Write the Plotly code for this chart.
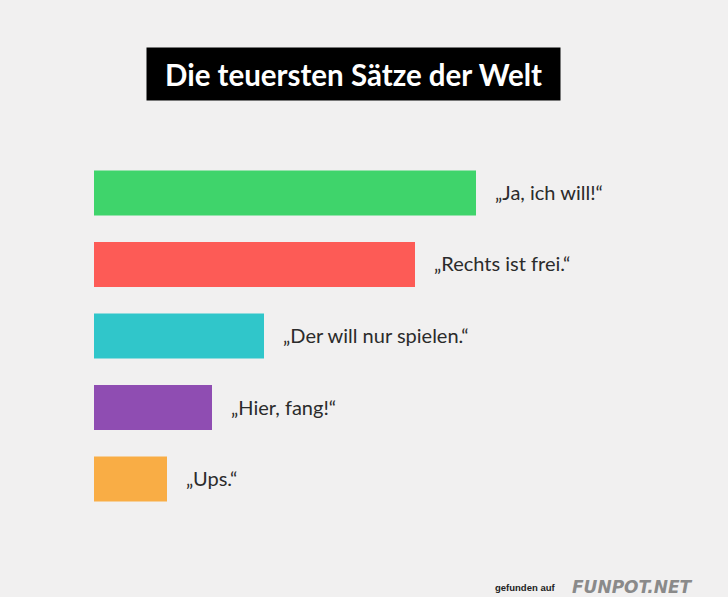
import plotly.graph_objects as go

# Daten
saetze = ["„Ja, ich will!“", "„Rechts ist frei.“", "„Der will nur spielen.“",
          "„Hier, fang!“", "„Ups.“"]
kosten = [382, 321, 170, 118, 73]
farben = ["#3fd46b", "#fd5b56", "#30c6ca", "#8f4db2", "#f9ad45"]
titel = "Die teuersten Sätze der Welt"

bg = "#f1f0f0"

fig = go.Figure()
fig.add_trace(
    go.Bar(
        x=kosten,
        y=saetze,
        orientation="h",
        marker=dict(color=farben, line=dict(width=0)),
        width=0.63,
        hoverinfo="skip",
        showlegend=False,
    )
)

# Beschriftung rechts neben den Balken
for s, k in zip(saetze, kosten):
    fig.add_annotation(
        x=k, y=s, text=s, showarrow=False,
        xanchor="left", xshift=17, yshift=1,
        font=dict(family="Lato", size=20, color="#2b2b2b"),
    )

# schwarzer Titelkasten
fig.add_annotation(
    x=0.4093, y=1.204, xref="paper", yref="paper",
    text="<b>" + titel + "</b>", showarrow=False,
    xanchor="center", yanchor="middle",
    width=413, height=52, borderpad=0,
    bgcolor="black",
    font=dict(family="Lato", size=29.5, color="white"),
)

# Quelle unten rechts
fig.add_annotation(
    x=1, y=0, xref="paper", yref="paper",
    text="<b>gefunden auf</b>", showarrow=False,
    xanchor="right", yanchor="middle",
    xshift=-171, yshift=-65,
    font=dict(family="Liberation Sans", size=9.5, color="#222222"),
)
fig.add_annotation(
    x=1, y=0, xref="paper", yref="paper",
    text="<b><i>FUNPOT.NET</i></b>", showarrow=False,
    xanchor="right", yanchor="middle",
    xshift=-33, yshift=-65,
    font=dict(family="DejaVu Sans", size=17, color="#8a8a8a"),
)

fig.update_layout(
    width=728, height=597,
    margin=dict(l=94, r=0, t=150, b=75),
    paper_bgcolor=bg, plot_bgcolor=bg,
    xaxis=dict(range=[0, 634], visible=False, fixedrange=True),
    yaxis=dict(range=[4.6, -0.6], visible=False, categoryorder="array",
               categoryarray=saetze, fixedrange=True),
)

fig.write_html("out.html", config={"displayModeBar": False},
               post_script="document.body.style.margin='0';")
